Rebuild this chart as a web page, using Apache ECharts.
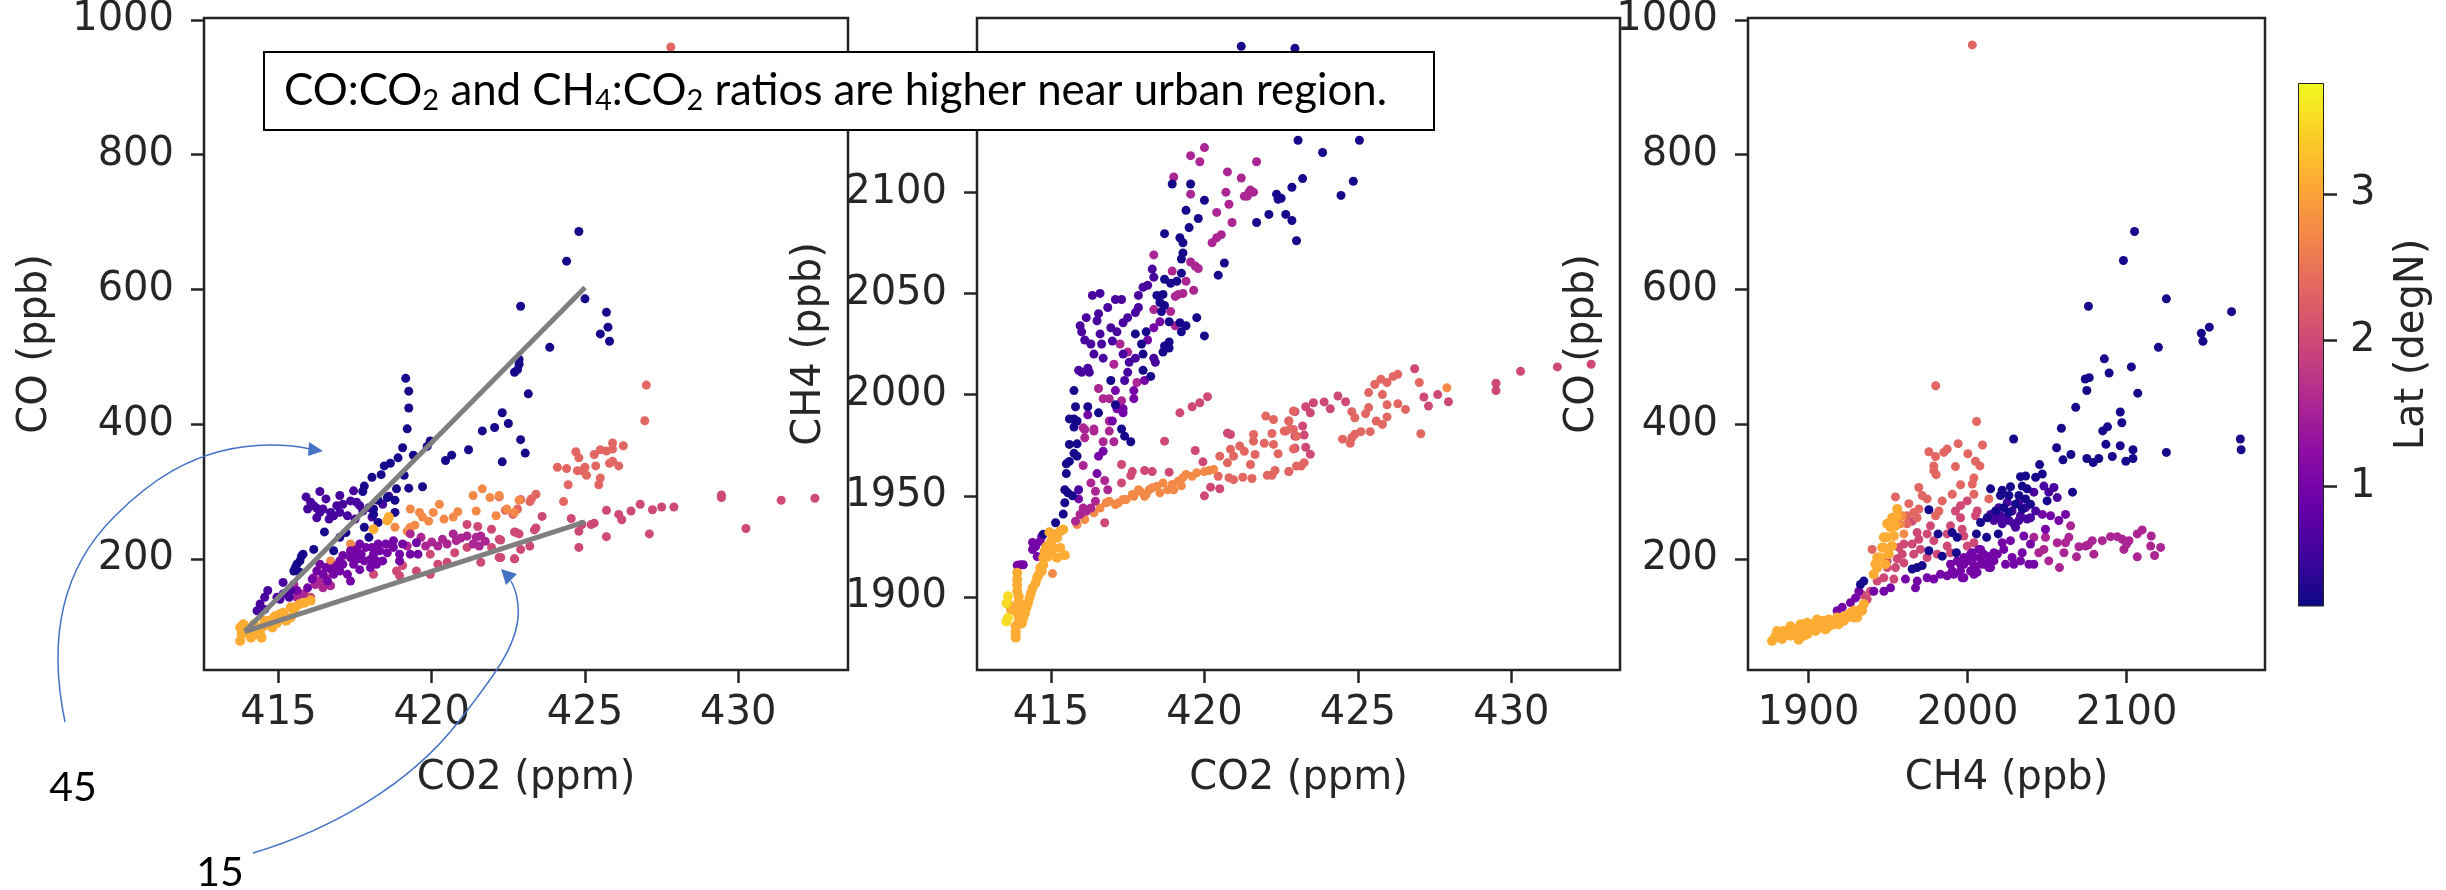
<!DOCTYPE html>
<html><head><meta charset="utf-8">
<style>html,body{margin:0;padding:0;background:#fff}#c{width:2446px;height:890px}</style>
<script src="https://cdn.jsdelivr.net/npm/echarts@6/dist/echarts.min.js"></script>
</head><body><div id="c"></div>
<script>
// Latitude assigned to each colour group (degN)
const latNavy=0.25, latIndigo=0.6, latPurple=1.0, latMagenta=1.55, latRose=2.0, latCoral=2.35, latOrange=2.75, latAmber=3.1, latYellow=3.5;

// Panel 1: CO2 (ppm), CO (ppb)
const p1Navy=[[424.8,686],[424.4,642],[425,586],[425.7,566],[422.9,575],[425.75,544],[425.5,534],[425.8,523],[423.85,514],[422.85,496],[422.85,489],[422.7,477],[422.8,481],[423.15,445],[419.15,468],[419.25,449],[419.25,424],[419.2,393],[422.3,417],[422.5,401],[422.05,395],[421.65,390],[422.9,377],[423.05,357],[422.3,344],[421.2,362],[420.65,354],[420.45,346],[419.95,375],[419.85,367],[419.05,365],[419.4,354],[419.7,307],[419.25,305],[419.1,324],[418.9,350],[418.65,342],[418.45,338],[418.35,325],[418.05,321],[417.8,308],[417.75,300],[418.85,304],[418.8,287],[418.55,291],[418.25,287],[418.1,274],[416.5,240],[417.2,239],[417,232],[416.15,214],[416.8,212],[415.75,204],[415.7,197],[415.55,187],[415.7,180],[415.8,207],[415.6,192],[415.5,182],[418.1,266],[417.8,247],[418.8,269],[418.25,254],[417.95,232]];
const p1Indigo=[[415.9,292],[416.35,300],[416.05,284],[416.55,289],[417,294],[415.95,274],[416.25,275],[416.25,261],[416.45,274],[416.7,269],[416.9,279],[417.1,281],[417.35,286],[417.55,284],[416.65,259],[417,269],[417.25,264],[417.5,259],[417.75,271],[417.45,301],[416.8,264],[416.35,269],[416.15,279],[418.05,262],[418.4,281],[418.6,293],[417.65,279],[417.95,276],[414.65,153],[415.15,165],[414.4,133],[414.3,123],[414.55,143],[414.95,143],[415.15,148],[415.4,153],[415.35,143],[415.05,140],[414.55,125]];
const p1Purple=[[417.55,207],[417.35,212],[417.8,197],[417.45,192],[417,197],[417.85,217],[418.1,207],[418.3,212],[418.5,222],[418.75,217],[418.95,207],[418.95,197],[418.4,197],[418,187],[417.65,184],[417.35,167],[417.25,177],[416.6,167],[416.45,177],[416.35,192],[416.55,187],[416.8,177],[416.25,182],[415.95,157],[415.6,153],[419.3,207],[419.55,207],[419.05,222],[419.5,224],[418.25,222],[417.1,205],[416.9,190],[417.6,200],[418.2,192],[416.7,185],[416.1,170],[416.85,187],[417.1,192],[417.5,199],[417.7,207],[417.35,202],[417,182],[418.05,217],[418.55,209],[418.75,227],[417.65,222],[417.55,214],[418.2,197],[418,199]];
const p1Magenta=[[419.8,219],[420.2,219],[420.35,229],[420.7,237],[420.8,227],[420.5,222],[421.15,234],[421.45,232],[421.6,234],[421.35,222],[421.55,219],[419.65,232],[419.3,237],[420.95,231],[421.75,226],[420,225],[416.5,172],[416.2,165],[416.15,172],[416.35,167],[416.55,172],[416.7,160],[416.45,157],[416.2,162],[415.8,148],[415.5,162],[415.6,143],[419.2,219]];
const p1Rose=[[418.1,177],[418.85,182],[418.95,175],[419.5,182],[419.95,177],[420.2,192],[420.5,195],[421.6,195],[422.2,202],[422.7,200],[421.95,217],[422.2,229],[421.95,244],[422.75,239],[421.5,248],[421.15,251],[420.75,209],[421.15,217],[419.95,207],[419.05,190],[416.05,143],[415.85,148],[423.6,263],[424.55,260],[425.7,272],[426.1,266],[426.2,258],[426.5,271],[426.8,281],[427.2,273],[427.5,277],[427.9,277],[429.45,295],[429.45,291],[431.4,287],[432.5,290],[430.25,245],[427.1,237],[425.7,233],[425.3,253],[425.2,251],[424.9,251],[424.8,241],[424.8,217],[423.4,246],[423.35,243],[422.7,240],[422.85,237],[422.25,228],[423.2,219],[422.9,214],[422.25,202],[422.7,200]];
const p1Coral=[[427,458],[426.95,405],[424.7,359],[424.8,350],[424.1,336],[424.4,334],[424.75,331],[425,336],[424.9,331],[425.05,324],[425.35,338],[425.3,355],[425.5,362],[425.7,360],[425.9,372],[425.9,363],[426.25,368],[425.8,342],[425.9,345],[426.1,338],[425.5,320],[425.45,310],[424.45,310],[424.3,285],[423.4,296],[423.25,289],[423.2,285],[422.9,288],[422.8,274],[422.65,266],[422.4,272],[422.2,292],[427.8,960]];
const p1Orange=[[419.3,274],[419.6,269],[419.7,262],[419.9,256],[418.8,247],[417.35,222],[416.7,197],[420.25,281],[420.05,269],[420.85,270],[420.4,259],[420.7,262],[421.45,271],[422.1,264],[421.35,294],[421.65,304],[421.9,291],[422.2,294],[422.45,274],[422.7,269],[422.85,287],[419.3,247],[419.45,250],[419.2,241]];
const p1Amber=[[418.6,262],[418.55,257],[418.1,244],[413.8,88],[414.1,83],[413.95,98],[414.4,95],[414.6,103],[414.85,113],[415.05,118],[415.25,108],[415.4,128],[415.7,133],[416.05,138],[415.5,125],[413.75,78],[413.75,98],[414.25,88],[414.55,108],[414.95,105],[414.2,103],[414.45,83],[414,92],[415.15,112],[413.85,103],[414.3,95],[414.5,100],[414.7,108],[414.9,115],[415.15,120],[415.4,113],[415.55,128],[415.85,135],[414.05,91],[414.4,88],[414.8,98]];

// Panel 2: CO2 (ppm), CH4 (ppb)
const p2Navy=[[421.2,2172],[422.95,2171],[423.05,2125.6],[425.05,2125.6],[423.85,2119.6],[424.85,2105.4],[423.2,2106.7],[422.85,2102.4],[424.45,2098.4],[422.35,2099],[422.5,2097],[422.4,2096.5],[422.65,2089],[422.85,2086],[422.1,2089],[421.7,2085],[423,2076],[418.95,2104],[419.55,2104],[420,2096],[419.4,2091],[419.8,2087],[419.5,2082.5],[418.7,2079.5],[419.2,2077.5],[419.3,2075],[419.3,2070],[419.25,2067],[420.65,2065],[420.45,2059],[419.25,2060],[419.1,2056],[418.9,2055],[418.7,2057],[419.75,2038],[420,2029],[419.2,2035.5],[419.4,2034],[419.25,2031],[418.85,2036],[418.45,2049],[418.65,2049.5],[418.55,2045.5],[418.7,2044],[418.6,2041],[418.85,2026],[418.7,2024],[418.85,2023],[418.65,2021],[418.1,2031],[417.75,2030],[417.95,2025],[418,2020],[418.25,2009],[418,2012],[416.95,2007],[415.75,2002],[415.8,1994],[415.75,1988],[415.6,1988],[415.85,1987],[415.75,1984],[416.2,1994],[416.55,1991],[417.1,1995],[417.3,1983],[417.4,1979.5],[417.6,1976.7],[415.6,1975.4],[415.85,1975.7],[415.75,1971],[415.85,1969.6],[415.6,1967],[415.5,1965.8],[415.5,1961],[415.45,1953],[415.55,1951.5],[415.45,1946.6],[415.7,1950],[415.4,1941],[415.15,1936.7],[414.75,1931]];
const p2Indigo=[[416.35,2049],[416.6,2050],[417.1,2047],[417.3,2047],[416.15,2038],[416.85,2043],[416.55,2040],[416.5,2036.5],[415.95,2034],[416,2031],[416.1,2027],[416.3,2025],[416.6,2030],[416.65,2025],[416.4,2020],[416.7,2018],[416.95,2033],[417.15,2031],[417.35,2035.5],[417.5,2038],[417.75,2040.5],[417.85,2043],[417.85,2049],[418,2053],[418.15,2054],[418.3,2062],[418.35,2058],[417,2026.5],[415.9,2012],[416,2011],[416.2,2013],[416.25,2011],[417.35,2020],[417.55,2016],[417.75,2018],[418.4,2016],[418.35,2018],[417.5,2011],[417.4,2007],[415.9,1953]];
const p2Purple=[[417.1,2002],[417.7,2002],[417.7,1998],[417.35,1993],[417.35,1991],[417,1987],[416.2,1990],[417.15,1993],[418.35,2033],[418.55,2036],[418.15,2027],[418.05,2007],[414.4,1927],[414.65,1927.6],[414.4,1923.5],[414.55,1920],[414,1916],[414.1,1916],[413.9,1915.7],[416.55,1969.6],[416.7,1972],[416.5,1961],[415.9,1948.5],[414.5,1925],[414.7,1930]];
const p2Magenta=[[420,2122],[419.55,2118],[419.85,2115],[419,2107.5],[419.55,2099],[420.75,2110],[421.2,2107],[421.7,2115],[420.7,2100],[420.8,2094],[421.4,2098],[421.5,2101],[421.6,2100],[421.45,2100],[421.3,2098],[420.4,2090],[420.9,2085],[420.55,2079],[420.4,2077.5],[420.25,2075],[418.35,2069],[419.55,2065.5],[419.7,2063.5],[419.8,2062.3],[418.95,2061],[419.4,2056],[419.65,2051.5],[419.3,2050],[419.15,2049.5],[419.05,2048.5],[418.9,2041],[418.35,2042],[419.05,2034],[417.25,2025],[417.5,2021],[417.05,2015],[417.8,2006],[416.55,2003],[416.7,1998],[416.9,1998],[417.3,1997],[416.05,1983.6],[416.4,1983],[416.9,1987],[416.1,1982.8],[416.4,1982],[416.1,1978.7],[416.7,1976.7],[417.05,1976.7],[416.9,1982],[416.05,1965],[416.3,1956.4],[416.75,1957.6],[416.45,1952.3],[416.45,1947.4],[416.05,1944],[415.95,1940.8],[415.8,1937.5],[416.15,1942.4],[416.3,1944],[416.85,1953]];
const p2Rose=[[420.1,1999],[419.85,1996],[419.6,1994],[419.2,1991],[417.3,1965.5],[417.65,1962],[417.6,1960],[417.3,1956.4],[418.05,1962.5],[418.3,1962],[418.85,1961.7],[418.7,1977],[419.7,1972.4],[419.95,1966.8],[416.75,1936.7],[420,1950],[420.2,1954.3],[420.5,1953.5],[420.75,1981],[420.85,1980.3],[426.85,2012.8],[430.3,2011.5],[431.5,2013.7],[432.6,2015],[429.5,2005.6],[429.5,2002],[427.15,1998.8],[427.6,2000],[427.95,1996.5],[427.3,1994.4],[423.55,1996],[423.9,1996.4],[424.1,1993],[423.3,1994],[423.45,1991],[422.95,1991.6],[422.75,1987],[423.2,1984.5],[423.25,1980],[422.95,1979.5],[422.95,1973.5],[423.3,1974],[423.45,1970.5],[424.35,1999.3],[424.6,1996.5]];
const p2Coral=[[422,1989.4],[422.25,1987.7],[422.2,1980.8],[422.65,1982],[422.9,1991.9],[422.75,1987],[422.9,1982.8],[423,1979.5],[421.6,1980.3],[421.6,1977],[421.65,1970.4],[421.95,1976],[422.25,1975.4],[422.4,1970.8],[422.9,1973.2],[423,1964.7],[422.75,1962],[422.3,1962.5],[422.05,1960.2],[422.2,1960.2],[421.55,1958.6],[421.25,1959.2],[420.95,1958],[420.8,1959],[420.45,1959.7],[421.5,1965.5],[420.5,1969.6],[420.75,1966.3],[420.95,1969.6],[421.15,1974.6],[421.3,1972],[420.85,1973],[425.35,2001],[425.55,2005],[425.75,2007.6],[425.95,2006],[426.15,2009],[426.3,2010],[425.8,2000],[425.95,1995],[426.3,1995.5],[426.55,1992.7],[425.35,1993.6],[425.25,1990.6],[424.8,1991.6],[424.9,1988.6],[425.95,1989],[425.6,1987],[425.8,1985.3],[425.4,1981.7],[425.1,1981.7],[424.9,1980.4],[424.8,1978.7],[424.75,1976],[424.5,1978],[423.15,1964.7],[423.25,1966.4],[422.75,1962],[422.6,1982],[422.8,1983],[427,2006],[427.05,1980.7]];
const p2Orange=[[420.3,1963],[420,1962],[419.6,1959.7],[419.3,1959],[419.25,1955],[419,1953],[418.65,1956.4],[418.55,1951.5],[418.3,1954],[418.1,1950.7],[417.9,1952.3],[417.7,1949.8],[417.45,1948.2],[417.2,1946.6],[416.9,1947.4],[416.6,1944],[416.4,1941.6],[416.1,1938.3],[415.85,1935.8],[415.05,1911.6],[427.9,2003.4],[416.8,1946.6],[417.1,1945.7],[417.35,1948.2],[417.65,1950.7],[417.85,1953],[418.05,1949.8],[418.2,1953],[418.45,1954.8],[418.8,1953],[418.95,1955.6],[419.15,1957.3],[419.4,1960.6],[419.75,1961.4],[420.15,1962.5]];
const p2Amber=[[415.4,1933.4],[415.2,1929.3],[415,1926],[415,1922.7],[415.3,1924.3],[415.45,1920.7],[415.2,1919.4],[414.75,1919.4],[414.65,1914.4],[414.55,1909.5],[414.4,1904.5],[414.3,1899.6],[414.2,1894.7],[414.1,1889.7],[413.9,1912],[413.9,1906],[413.95,1900.4],[414,1896.3],[414.05,1891.4],[413.7,1893.8],[413.85,1883],[413.85,1880],[413.9,1886.4],[414.85,1925],[414.95,1932],[414.75,1916],[414.7,1912.8],[414.6,1911],[414.5,1907],[414.35,1902],[414.25,1897],[414.15,1892],[414.05,1887],[413.9,1908.7],[413.9,1903],[413.95,1898],[413.65,1896],[413.85,1893],[413.95,1890],[413.75,1894.7],[413.85,1885.6],[413.85,1881.5],[414.85,1924.3],[415,1927.6],[415.15,1931],[415.3,1932.6],[414.9,1920],[415.05,1923.5],[414.8,1922.7]];
const p2Yellow=[[413.6,1900.4],[413.55,1897],[413.55,1888],[413.6,1889.7]];

// Panel 3: CH4 (ppb), CO (ppb)
const p3Navy=[[2105,686],[2098,643],[2125,586],[2076,575],[2166,567],[2152,544],[2147,535],[2148,523],[2120,514],[2086,497],[2076.5,469],[2074,467],[2075,450],[2089,476],[2103,485],[2107,446],[2068,425],[2096,418],[2097,402],[2088,396],[2085,390],[2059,394],[2029,378],[2171.5,378],[2172,362],[2125,358],[2087,370],[2096,368],[2104,362],[2056,365],[2065,355],[2060,347],[2075,349],[2079,343],[2082.5,349],[2091,352],[2099.5,345],[2104,349],[2066,299],[2045.3,340],[2047,326],[2042.8,321],[2033.3,322],[2036.5,323],[2014.5,304],[2021.8,302],[2027,307],[2034.4,308],[2037.5,304],[2026,294],[2032.3,294],[2020.7,294],[2036.5,289],[2050,286],[2030.2,281],[2022.8,276],[2017.6,271],[2026,269],[2034.4,274],[2039.6,281],[2012.4,261],[2008.2,254],[2005.6,237],[2012,232],[1993.5,232],[1990.3,239],[1993,209],[2019.3,237],[1975.7,273],[1981.5,237],[1984.1,204],[1975.7,212],[1968.3,187],[1965.2,185],[1971.5,190],[1934.8,167],[1932.7,162]];
const p3Indigo=[[2048,308],[2054.3,306],[2051.1,299],[2056.4,291],[2041.7,299],[2016.6,257],[2021.8,252],[2029.1,252],[2037.5,259],[2033.3,264],[2020.7,264],[2014.5,266],[2042.8,271],[2030.2,247],[2025,284],[2032.3,284],[2036.5,276],[2028,271],[2019.7,276],[2024,261],[2032.3,257],[2026,257],[2018.6,261],[2039.6,261]];
const p3Purple=[[2047,266],[2052.2,264],[2057.4,257],[2061.6,266],[2049,244],[2021.8,224],[2027,227],[2035.4,234],[2022.8,214],[2028,202],[2034.4,209],[2039.6,222],[2038.6,192],[2029.1,192],[2023.9,192],[2010.3,207],[2016.6,209],[2001.9,207],[2007.1,214],[1995.6,192],[2004,190],[2013.4,187],[1997.7,202],[1989.3,192],[1991.4,177],[1997.7,172],[2006,180],[2041.7,192],[2033.3,197],[1941.1,152],[1947.4,152],[1951.6,157],[1961,170],[1968.4,167],[1967.3,157],[1974.6,172],[1978.8,170],[1987.2,175],[1990.4,182],[1996.6,172],[1997.7,192],[2004,177],[2002.9,209],[2008.2,214],[2014.5,187],[2008.2,192],[2018.7,207],[2014.5,204],[1983,177],[1931.7,152],[1929.6,142],[1926.4,135],[1921.2,128],[1918,123],[2004,202],[1999.8,197],[2008.2,202],[2013.4,199],[1995.6,182],[2001.9,182],[2010.3,192],[2016.6,197],[1993.5,197]];
const p3Magenta=[[2064.8,249],[2049,232],[2063.7,232],[2056.4,224],[2061.6,224],[2041.7,232],[2044.8,209],[2048,214],[2060.6,209],[2051.1,197],[2057.8,187],[2070,218],[2068.5,203],[2074.2,219],[2078.4,227],[2079.4,207],[2084.7,227],[2089.9,233],[2094.1,233],[2097.3,229],[2101.5,227],[2098.3,214],[2106.7,237],[2109.8,243],[2115.5,234],[2115.1,219],[2121.4,217],[2106.7,203],[2117.6,205],[2076,221],[2100,222]];
const p3Rose=[[1999.8,286],[1995.6,279],[1992.4,271],[2006.1,271],[1995.6,261],[1976.7,249],[1989.3,249],[1996.6,244],[1968.3,239],[1974.6,237],[1969.4,229],[1978.8,227],[1987.2,237],[1960,222],[1965.2,222],[1970.4,214],[1956.8,217],[1958.9,207],[1966.2,207],[1955.8,200],[1960,194],[1949.5,197],[1949.5,187],[1954.7,187],[1987.2,219],[1989.3,209],[1974.6,202],[1980.9,207],[2004,224],[1999.8,219],[2005,264],[1997.7,234],[1965.2,256],[1933.8,147],[1936.9,140],[1939,152],[1943.2,167],[1947.4,172],[1953.7,170]];
const p3Coral=[[2005.7,404],[1994.1,371],[2009.4,369],[1975.7,359],[1979.9,352],[1985.1,358],[1987.2,363],[2000.2,356],[2005,345],[2007.8,338],[1978.8,338],[1992.4,337],[1978.8,331],[1980.3,325],[2004,320],[2003,311],[1995.6,310],[1969.4,306],[1954.7,292],[1971.5,294],[1974.6,289],[1990.4,296],[2004,296],[2013.4,289],[1963.1,282],[1984.1,286],[1969.4,274],[1966.2,269],[1962,264],[1982,271],[1979.9,264],[1940,214],[2003,963],[1980,457],[1962,252],[1968.3,261]];
const p3Orange=[[1958.9,264],[1957.9,252],[1960,237]];
const p3Amber=[[1955.8,274],[1953.7,261],[1951.6,247],[1949.5,232],[1947.4,217],[1945.3,202],[1943.2,187],[1955.8,264],[1954.7,249],[1953.7,234],[1952.6,219],[1950.5,207],[1948.4,192],[1941,177],[1949.5,252],[1879.2,85],[1882.4,83],[1884.5,93],[1888.7,93],[1893.9,80],[1893.9,95],[1899.2,95],[1899.2,88],[1903.4,103],[1904.4,93],[1909.6,103],[1910.7,95],[1915.9,103],[1918,113],[1922.2,108],[1923.3,115],[1928.5,113],[1928.5,123],[1932.7,125],[1934.8,133],[1888.7,86],[1877.1,78],[1890,90],[1896,92],[1907,98],[1913,100],[1920,110],[1880.3,93],[1886.6,88],[1890.8,95],[1897,86],[1902.3,103],[1907.5,98],[1912.8,110],[1919,103],[1924.3,113],[1930.6,113],[1933.7,123],[1926.4,120],[1921.2,113],[1888.7,100],[1895,103],[1899.2,105],[1905.4,110],[1883.4,81],[1893.9,88],[1909.6,108],[1952.6,261],[1947.4,232],[1946.3,217],[1943.2,202],[1942.1,192]];

// Axis ticks and labels
const co2Ticks=[415,420,425,430], coTicks=[200,400,600,800,1000], ch4Ticks=[1900,1950,2000,2050,2100,2150], ch4Ticks3=[1900,2000,2100], latTicks=[1,2,3];
// Reference slopes drawn on panel 1
const line45=[[413.9,92],[425,603]], line15=[[413.9,92],[425,255]];
const latRange=[0.18,3.76];
const plasma=['#0d0887','#41049d','#6a00a8','#8f0da4','#b12a90','#cc4778','#e16462','#f2844b','#fca636','#fcce25','#f0f921'];

const ink='#262626', fs=40;
const plain=v=>String(v);
const panels=[
 {g:[[p1Rose,latRose],[p1Coral,latCoral],[p1Orange,latOrange],[p1Magenta,latMagenta],[p1Purple,latPurple],[p1Indigo,latIndigo],[p1Navy,latNavy],[p1Amber,latAmber]]},
 {g:[[p2Rose,latRose],[p2Coral,latCoral],[p2Orange,latOrange],[p2Magenta,latMagenta],[p2Purple,latPurple],[p2Indigo,latIndigo],[p2Navy,latNavy],[p2Amber,latAmber],[p2Yellow,latYellow]]},
 {g:[[p3Rose,latRose],[p3Coral,latCoral],[p3Orange,latOrange],[p3Magenta,latMagenta],[p3Purple,latPurple],[p3Indigo,latIndigo],[p3Navy,latNavy],[p3Amber,latAmber]]}
];
const grids=[
 {left:204,top:18,width:644,height:652},
 {left:977,top:18,width:643,height:652},
 {left:1748,top:18,width:517,height:652},
 {left:2298,top:83,width:26,height:523}
].map((g,i)=>Object.assign({show:i<3,borderColor:'#222',borderWidth:2.5,backgroundColor:'#fff'},g));

function xAx(i,min,max,ticks,name){return{gridIndex:i,type:'value',min,max,name,nameLocation:'middle',nameGap:89,
 nameTextStyle:{fontFamily:'DejaVu Sans',fontSize:fs,color:ink},
 axisLine:{show:false},splitLine:{show:false},
 axisTick:{show:true,length:13,inside:false,lineStyle:{color:ink,width:2.5},customValues:ticks},
 axisLabel:{fontFamily:'DejaVu Sans',fontSize:fs,color:ink,margin:24,customValues:ticks,formatter:plain}}}
function yAx(i,min,max,ticks,name,gap){return{gridIndex:i,type:'value',min,max,name,nameLocation:'middle',nameGap:gap,
 nameTextStyle:{fontFamily:'DejaVu Sans',fontSize:fs,color:ink},
 axisLine:{show:false},splitLine:{show:false},
 axisTick:{show:true,length:13,lineStyle:{color:ink,width:2.5},customValues:ticks},
 axisLabel:{fontFamily:'DejaVu Sans',fontSize:fs,color:ink,margin:30,customValues:ticks,formatter:plain}}}

const series=[];
panels.forEach((p,i)=>p.g.forEach(([d,lat])=>series.push({type:'scatter',xAxisIndex:i,yAxisIndex:i,symbolSize:lat>3?10:9,
  itemStyle:{opacity:1},data:d.map(v=>[v[0],v[1],lat])})));
const scatterIdx=series.map((_,i)=>i);
[line45,line15].forEach(l=>series.push({type:'line',xAxisIndex:0,yAxisIndex:0,data:l,symbol:'none',z:5,
  lineStyle:{color:'#7f7f7f',width:5}}));
series.push({type:'bar',xAxisIndex:3,yAxisIndex:3,barWidth:'100%',data:[latRange[1]],silent:true,
  itemStyle:{borderColor:'#222',borderWidth:1,color:new echarts.graphic.LinearGradient(0,1,0,0,plasma.map((c,i)=>({offset:i/10,color:c})))}});

const blue='#4472C4';
const arc=(x1,y1,cpx1,cpy1,cpx2,cpy2,x2,y2)=>({type:'bezierCurve',z:50,silent:true,
  shape:{x1,y1,cpx1,cpy1,cpx2,cpy2,x2,y2},style:{stroke:blue,lineWidth:1.5,fill:'none'}});
const head=(pts)=>({type:'polygon',z:51,silent:true,shape:{points:pts},style:{fill:blue}});

const chart=echarts.init(document.getElementById('c'),null,{renderer:'canvas'});
chart.setOption({
 animation:false,backgroundColor:'#fff',
 grid:grids,
 xAxis:[
  xAx(0,412.57,433.58,co2Ticks,'CO2 (ppm)'),
  xAx(1,412.59,433.54,co2Ticks,'CO2 (ppm)'),
  xAx(2,1862,2187,ch4Ticks3,'CH4 (ppb)'),
  {gridIndex:3,type:'category',data:['Lat'],show:false}
 ],
 yAxis:[
  yAx(0,35,1003,coTicks,'CO (ppb)',148),
  yAx(1,1864,2186,ch4Ticks,'CH4 (ppb)',147),
  yAx(2,35,1003,coTicks,'CO (ppb)',145),
  {gridIndex:3,type:'value',position:'right',min:latRange[0],max:latRange[1],name:'Lat (degN)',nameLocation:'middle',nameGap:69,nameRotate:90,
   nameTextStyle:{fontFamily:'DejaVu Sans',fontSize:fs,color:ink},axisLine:{show:false},splitLine:{show:false},
   axisTick:{show:true,length:13,lineStyle:{color:ink,width:2.5},customValues:latTicks},
   axisLabel:{fontFamily:'DejaVu Sans',fontSize:fs,color:ink,margin:26,customValues:latTicks,formatter:plain}}
 ],
 visualMap:{show:false,type:'continuous',seriesIndex:scatterIdx,dimension:2,min:latRange[0],max:latRange[1],inRange:{color:plasma}},
 series,
 graphic:[
  {type:'rect',z:40,silent:true,shape:{x:264,y:52,width:1170,height:78},style:{fill:'#fff',stroke:'#000',lineWidth:2}},
  {type:'text',z:41,silent:true,x:284,y:91,style:{
    text:'{a|CO:CO}{s|2}{a| and CH}{s|4}{a|:CO}{s|2}{a| ratios are higher near urban region.}',
    verticalAlign:'middle',align:'left',
    rich:{a:{fontFamily:'Lato',fontSize:43.8,fill:'#000',height:54,verticalAlign:'middle'},
          s:{fontFamily:'Lato',fontSize:29,fill:'#000',height:54,padding:[20,0,0,0],verticalAlign:'middle'}}}},
  {type:'text',z:41,silent:true,x:73,y:788,style:{text:'45',fontFamily:'Lato',fontSize:41,fill:'#000',align:'center',verticalAlign:'middle'}},
  {type:'text',z:41,silent:true,x:220,y:873,style:{text:'15',fontFamily:'Lato',fontSize:41,fill:'#000',align:'center',verticalAlign:'middle'}},
  arc(65,722,50,650,55,575,115,516),
  arc(115,516,140,491,190,445,270,445),
  arc(270,445,285,445,298,446,310,449),
  head([[323,451],[309,442],[308,456]]),
  arc(253,853,330,830,410,785,459,721),
  arc(459,721,495,675,522,640,518,605),
  arc(518,605,517,595,515,588,511,581),
  head([[501,569],[517,574],[506,585]])
 ]
});
</script></body></html>
